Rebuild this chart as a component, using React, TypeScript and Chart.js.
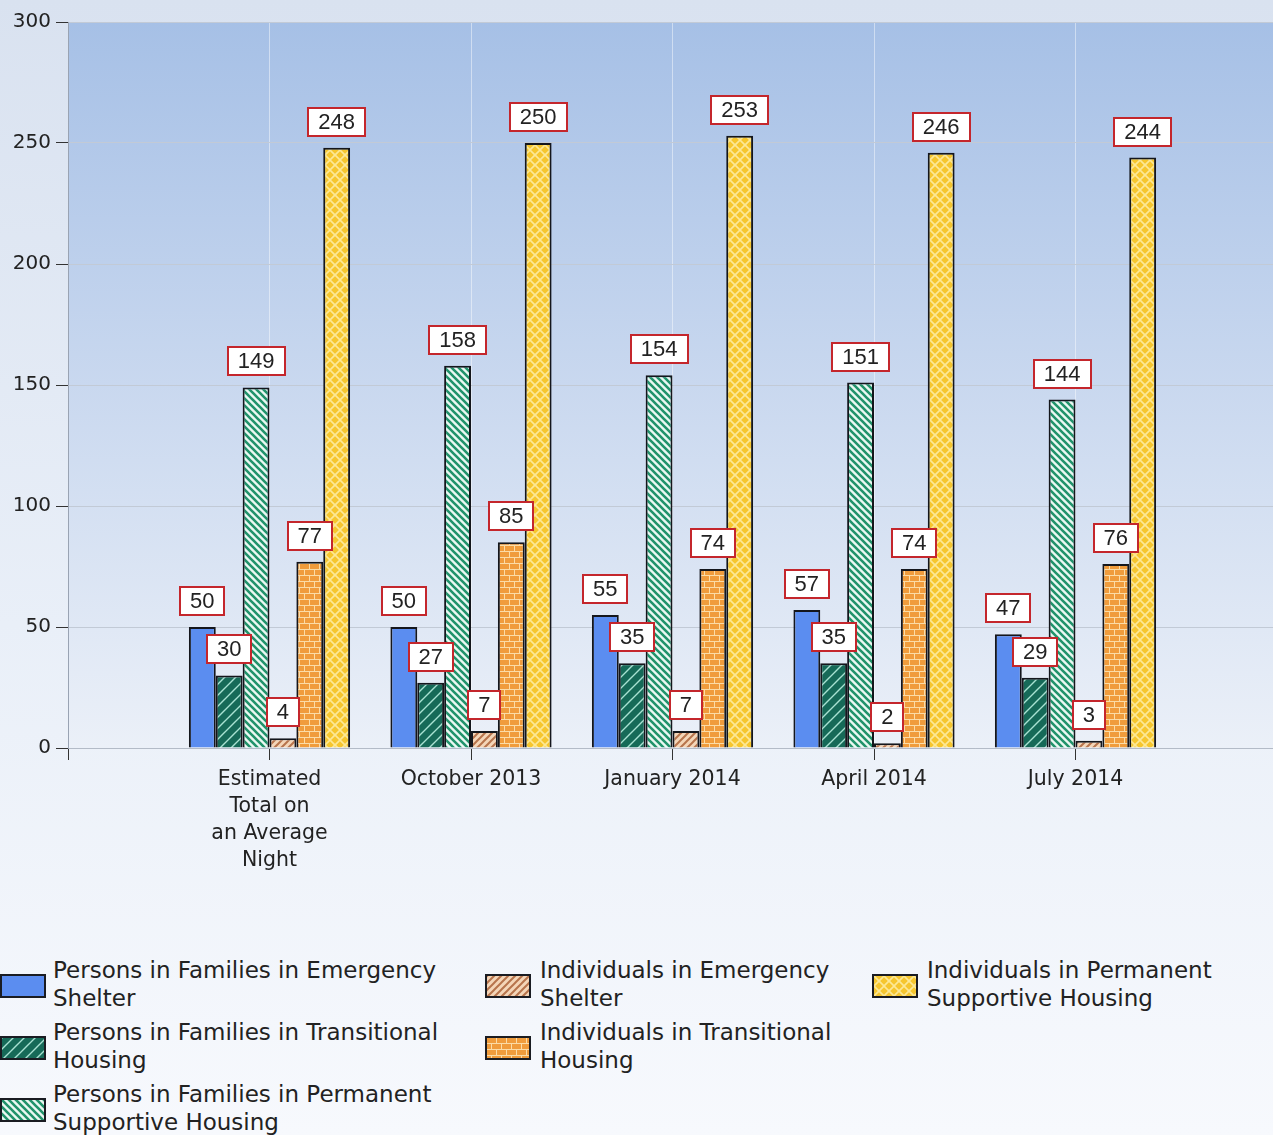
import React, { useEffect, useRef } from 'react';
import { Chart, registerables } from 'chart.js';

Chart.register(...registerables);

// ---------- data ----------
const categories: (string | string[])[] = [
  ['Estimated', 'Total on', 'an Average', 'Night'],
  'October 2013',
  'January 2014',
  'April 2014',
  'July 2014',
];
const familiesEmergency = [50, 50, 55, 57, 47];
const familiesTransitional = [30, 27, 35, 35, 29];
const familiesPermanent = [149, 158, 154, 151, 144];
const individualsEmergency = [4, 7, 7, 2, 3];
const individualsTransitional = [77, 85, 74, 74, 76];
const individualsPermanent = [248, 250, 253, 246, 244];
const seriesNames = [
  ['Persons in Families in Emergency', 'Shelter'],
  ['Persons in Families in Transitional', 'Housing'],
  ['Persons in Families in Permanent', 'Supportive Housing'],
  ['Individuals in Emergency', 'Shelter'],
  ['Individuals in Transitional', 'Housing'],
  ['Individuals in Permanent', 'Supportive Housing'],
];
const yMin = 0;
const yMax = 300;
const yStep = 50;

// ---------- patterns ----------
function tile(w: number, h: number, draw: (c: CanvasRenderingContext2D) => void) {
  const cv = document.createElement('canvas');
  cv.width = w;
  cv.height = h;
  const c = cv.getContext('2d')!;
  draw(c);
  return cv;
}
function slash(c: CanvasRenderingContext2D, s: number) {
  c.beginPath();
  c.moveTo(0, s); c.lineTo(s, 0);
  c.moveTo(-1, 1); c.lineTo(1, -1);
  c.moveTo(s - 1, s + 1); c.lineTo(s + 1, s - 1);
  c.stroke();
}
function backslash(c: CanvasRenderingContext2D, s: number) {
  c.beginPath();
  c.moveTo(0, 0); c.lineTo(s, s);
  c.moveTo(s - 1, -1); c.lineTo(s + 1, 1);
  c.moveTo(-1, s - 1); c.lineTo(1, s + 1);
  c.stroke();
}
function makeTiles() {
  const blue = tile(4, 4, (c) => { c.fillStyle = '#5b8df0'; c.fillRect(0, 0, 4, 4); });
  const teal = tile(11, 11, (c) => {
    c.fillStyle = '#166a58'; c.fillRect(0, 0, 11, 11);
    c.strokeStyle = '#a8e2d2'; c.lineWidth = 1.4; slash(c, 11);
  });
  const green = tile(7, 7, (c) => {
    c.fillStyle = '#eaf8f2'; c.fillRect(0, 0, 7, 7);
    c.strokeStyle = '#21936b'; c.lineWidth = 2.6; backslash(c, 7);
  });
  const brown = tile(7, 7, (c) => {
    c.fillStyle = '#f4d6b8'; c.fillRect(0, 0, 7, 7);
    c.strokeStyle = '#b7744c'; c.lineWidth = 2; slash(c, 7);
  });
  const brick = tile(10, 12, (c) => {
    c.fillStyle = '#fbdca6'; c.fillRect(0, 0, 10, 12);
    c.fillStyle = '#f09c3c';
    c.fillRect(0, 0, 9, 5);
    c.fillRect(0, 6, 4, 5);
    c.fillRect(5, 6, 5, 5);
  });
  const yellow = tile(10, 10, (c) => {
    c.fillStyle = '#f6c62e'; c.fillRect(0, 0, 10, 10);
    c.strokeStyle = '#fce896'; c.lineWidth = 1.6; slash(c, 10); backslash(c, 10);
  });
  return [blue, teal, green, brown, brick, yellow];
}

const plotBg = {
  id: 'plotBg',
  beforeDraw(chart: any) {
    const { ctx, chartArea } = chart;
    const { left, top, right, bottom } = chartArea;
    const g = ctx.createLinearGradient(0, top, 0, bottom);
    g.addColorStop(0, '#a6c0e6');
    g.addColorStop(0.5, '#c9d8ef');
    g.addColorStop(1, '#ebf0f8');
    ctx.save();
    ctx.fillStyle = g;
    ctx.fillRect(left, top, right - left, bottom - top);
    ctx.restore();
  },
};

const valueBoxes = {
  id: 'valueBoxes',
  afterDatasetsDraw(chart: any) {
    const { ctx } = chart;
    ctx.save();
    ctx.font = '22px "Liberation Sans", Arial, sans-serif';
    ctx.textAlign = 'center';
    ctx.textBaseline = 'middle';
    chart.data.datasets.forEach((ds: any, i: number) => {
      const meta = chart.getDatasetMeta(i);
      meta.data.forEach((bar: any, j: number) => {
        const v = ds.data[j];
        if (v === null || v === undefined) return;
        const text = String(v);
        const tw = ctx.measureText(text).width;
        const w = Math.round(tw + 20);
        const h = 28;
        const x = Math.round(bar.x - w / 2);
        const y = Math.round(bar.y - 12 - h);
        ctx.fillStyle = '#ffffff';
        ctx.fillRect(x, y, w, h);
        ctx.strokeStyle = '#c4262c';
        ctx.lineWidth = 2;
        ctx.strokeRect(x, y, w, h);
        ctx.fillStyle = '#222222';
        ctx.fillText(text, bar.x, y + h / 2 + 1);
      });
    });
    ctx.restore();
  },
};

export default function App() {
  const ref = useRef<HTMLCanvasElement | null>(null);
  const tilesRef = useRef<HTMLCanvasElement[] | null>(null);
  if (!tilesRef.current && typeof document !== 'undefined') tilesRef.current = makeTiles();
  const tiles = tilesRef.current!;

  useEffect(() => {
    const canvas = ref.current!;
    const ctx = canvas.getContext('2d')!;
    const pats = tiles.map((t) => ctx.createPattern(t, 'repeat'));
    const series = [
      familiesEmergency,
      familiesTransitional,
      familiesPermanent,
      individualsEmergency,
      individualsTransitional,
      individualsPermanent,
    ];
    const labels = ['', ...categories, ''];
    const chart = new Chart(canvas, {
      type: 'bar',
      data: {
        labels,
        datasets: series.map((s, i) => ({
          label: seriesNames[i].join(' '),
          data: [null, ...s, null],
          backgroundColor: pats[i] as any,
          borderColor: '#14161c',
          borderWidth: 2,
          categoryPercentage: 0.8,
          barPercentage: 1.0,
        })),
      },
      options: {
        responsive: false,
        animation: false,
        devicePixelRatio: 1,
        layout: { padding: { top: 22, left: 0, right: 0, bottom: 0 } },
        plugins: { legend: { display: false }, tooltip: { enabled: false }, title: { display: false } },
        scales: {
          x: {
            type: 'category',
            offset: false,
            grid: {
              offset: false,
              color: 'rgba(255,255,255,0.45)',
              tickColor: '#333333',
              tickLength: 12,
              drawTicks: true,
            },
            border: { color: '#b3bbc7', width: 1 },
            ticks: {
              autoSkip: false,
              maxRotation: 0,
              minRotation: 0,
              padding: 6,
              color: '#222222',
              font: { family: '"DejaVu Sans", sans-serif', size: 20.5, lineHeight: 1.32 },
            },
            afterFit: (s: any) => { s.height = 140; },
          },
          y: {
            min: yMin,
            max: yMax,
            ticks: {
              stepSize: yStep,
              padding: 5,
              color: '#222222',
              font: { family: '"DejaVu Sans", sans-serif', size: 20 },
            },
            grid: { color: '#c2cad6', tickColor: '#333333', tickLength: 12 },
            border: { color: '#99a3b3', width: 1 },
            afterFit: (s: any) => { s.width = 68; },
          },
        },
      },
      plugins: [plotBg, valueBoxes],
    });
    return () => chart.destroy();
  }, []);

  const legendCols = [
    { sw: 0, tx: 53, items: [0, 1, 2] },
    { sw: 485, tx: 540, items: [3, 4] },
    { sw: 872, tx: 927, items: [5] },
  ];
  const rowTop = [956, 1018, 1080];

  return (
    <div
      style={{
        position: 'absolute',
        left: 0,
        top: 0,
        width: 1273,
        height: 1135,
        overflow: 'hidden',
        background: 'linear-gradient(#d9e2f0 0%, #e9eff8 55%, #f7f9fd 100%)',
      }}
    >
      <canvas ref={ref} width={1283} height={888} style={{ position: 'absolute', left: 0, top: 0 }} />
      {legendCols.map((col, ci) =>
        col.items.map((idx, ri) => (
          <React.Fragment key={`${ci}-${ri}`}>
            <div
              style={{
                position: 'absolute',
                left: col.sw,
                top: rowTop[ri] + 18,
                width: 42,
                height: 20,
                border: '2px solid #1a1c22',
                backgroundImage: tiles ? `url(${tiles[idx].toDataURL()})` : undefined,
              }}
            />
            <div
              style={{
                position: 'absolute',
                left: col.tx,
                top: rowTop[ri],
                fontFamily: '"DejaVu Sans", sans-serif',
                fontSize: 23,
                lineHeight: '28px',
                color: '#222222',
                whiteSpace: 'nowrap',
              }}
            >
              {seriesNames[idx][0]}
              <br />
              {seriesNames[idx][1]}
            </div>
          </React.Fragment>
        ))
      )}
    </div>
  );
}
